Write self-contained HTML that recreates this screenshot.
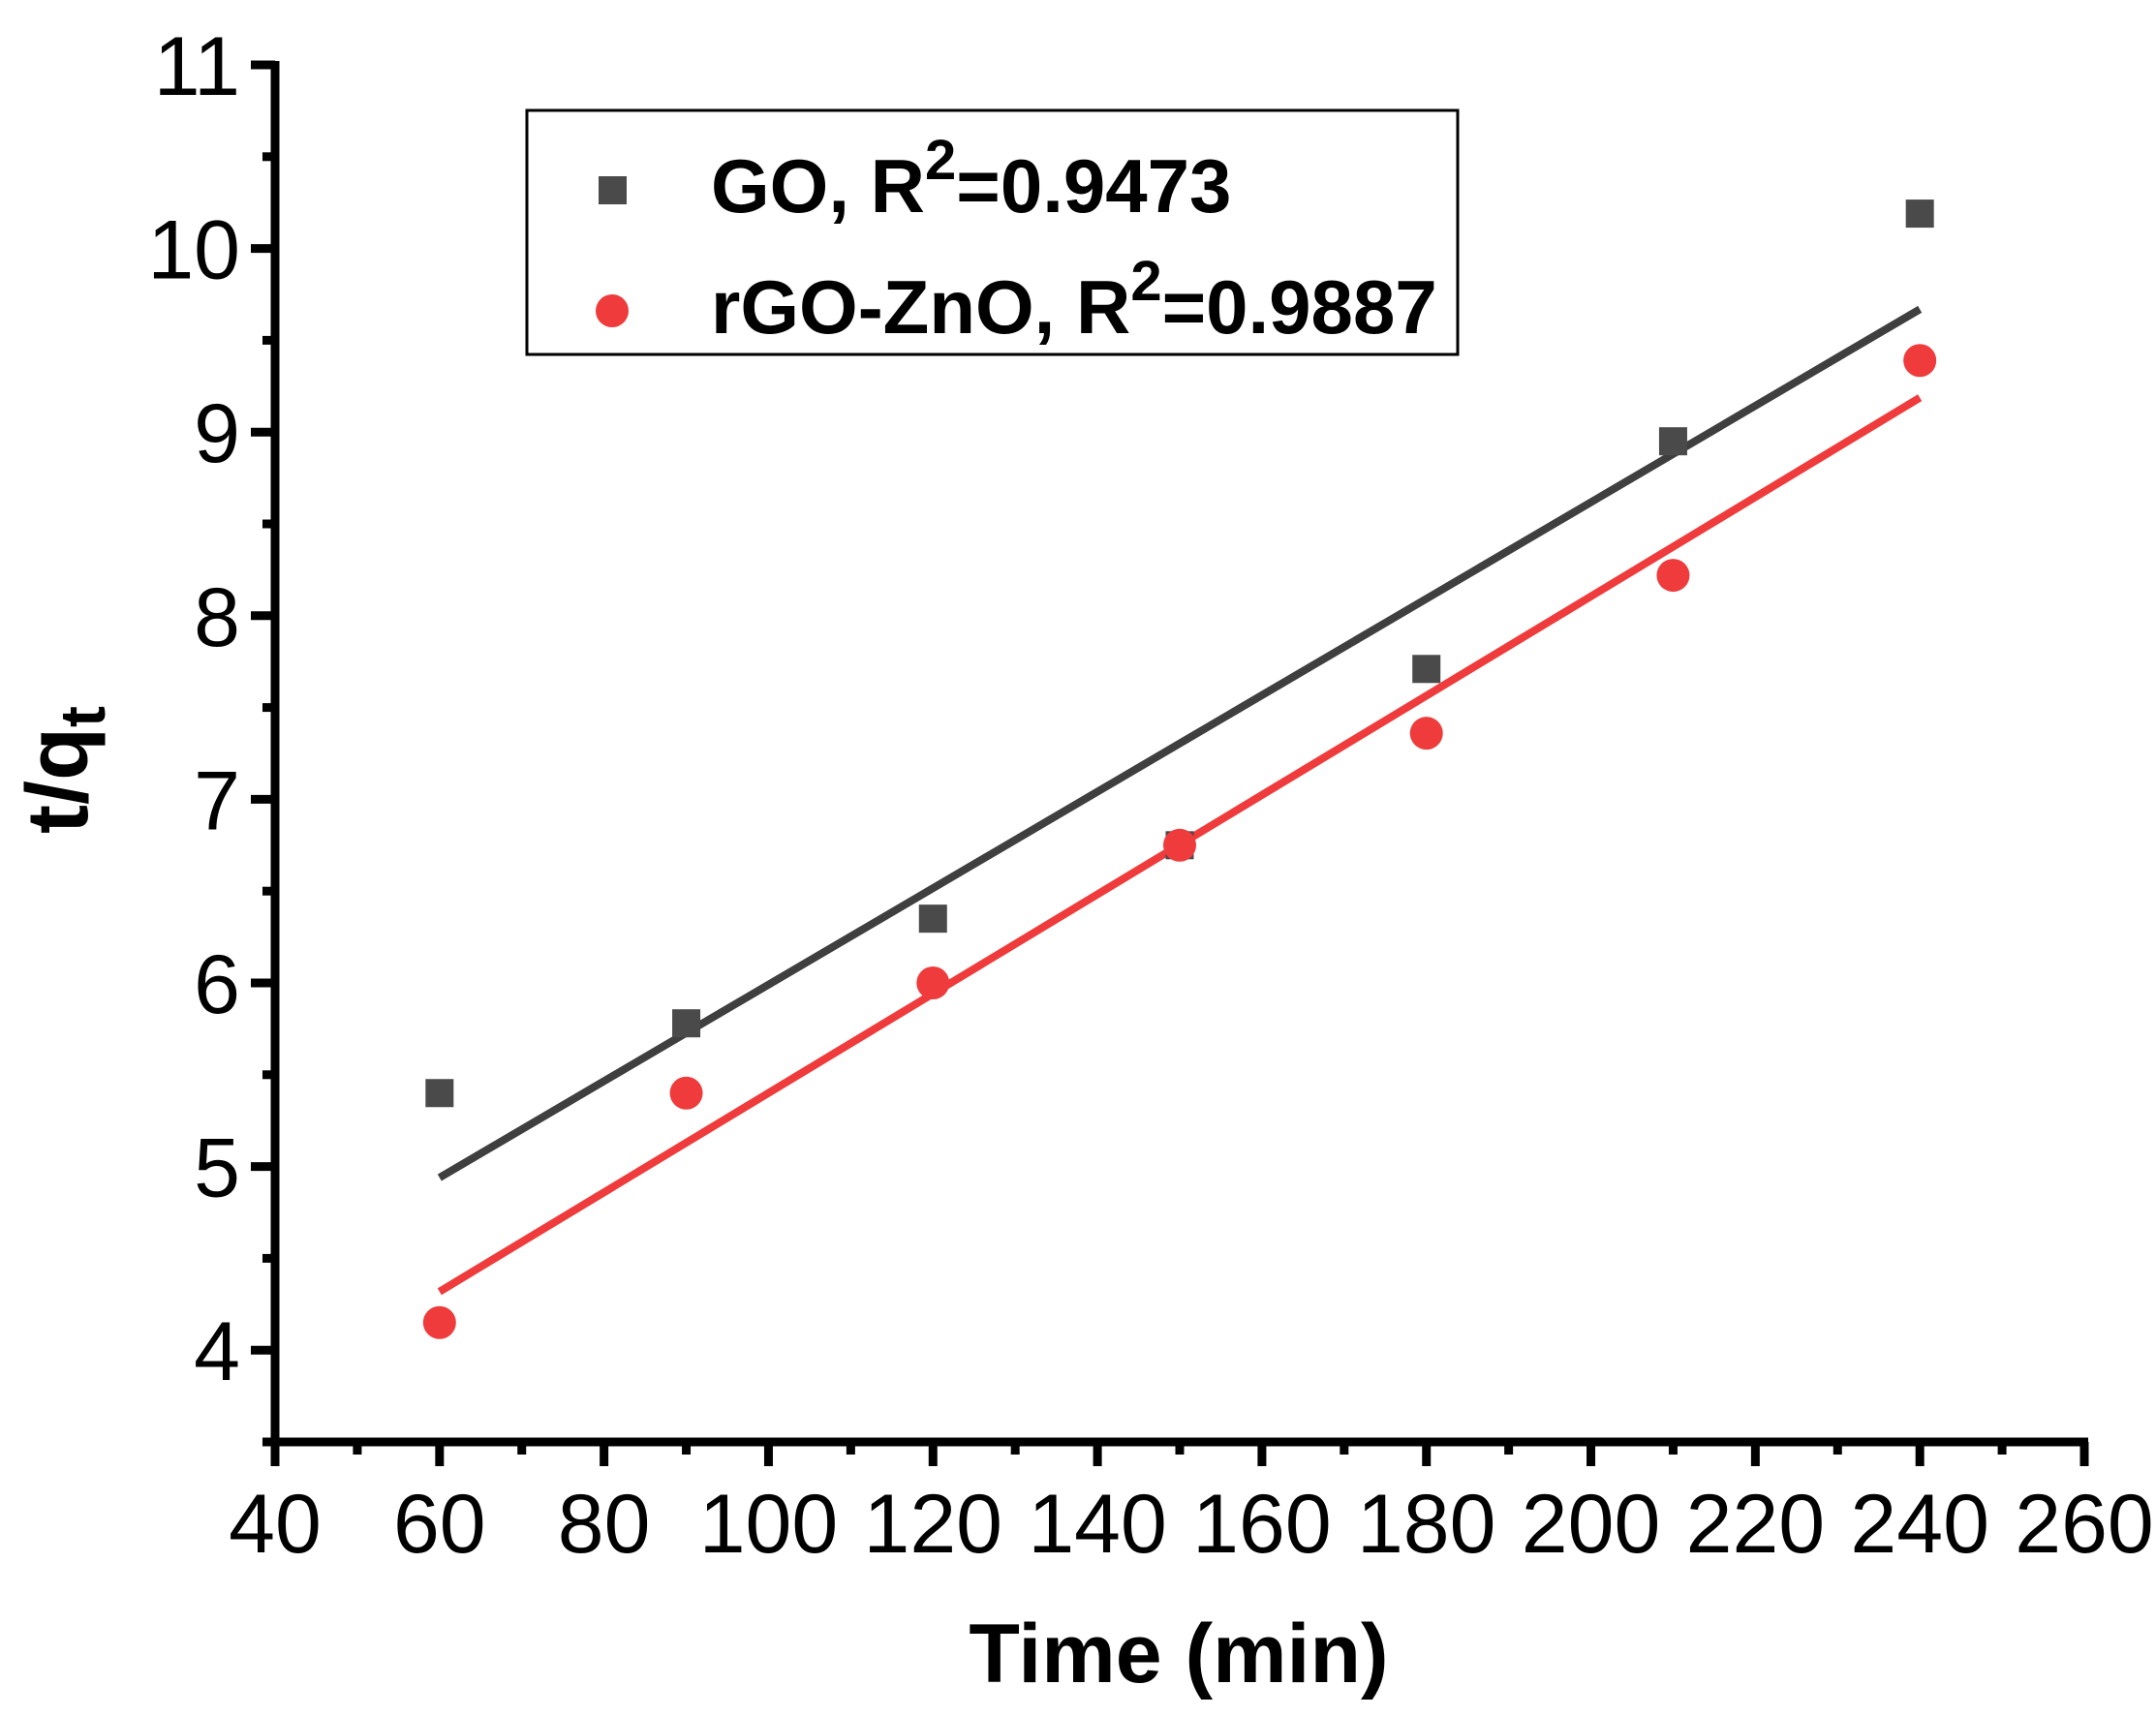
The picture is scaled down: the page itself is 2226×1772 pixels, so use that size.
<!DOCTYPE html>
<html><head><meta charset="utf-8"><style>
html,body{margin:0;padding:0;background:#fff}
svg{display:block}
text{font-family:"Liberation Sans",Arial,sans-serif;fill:#000}
</style></head><body>
<svg id="chart" width="2226" height="1772" viewBox="0 0 2226 1772" xmlns="http://www.w3.org/2000/svg">
<g id="axes"></g>
<g id="series"></g>
<text x="1217" y="1737" font-size="86" font-weight="bold" text-anchor="middle">Time (min)</text>
<text transform="translate(90,795) rotate(-90)" font-size="90" font-weight="bold" text-anchor="middle">t/q<tspan font-size="66" dy="18">t</tspan></text>
<g>
<rect x="544" y="114" width="961" height="252" fill="#fff" stroke="#000" stroke-width="3"/>
<rect x="618" y="182" width="29" height="29" fill="#4a4a4a"/>
<text x="734" y="219" font-size="78" font-weight="bold">GO, R<tspan font-size="58" dy="-34">2</tspan><tspan dy="34">=0.9473</tspan></text>
<circle cx="632" cy="321" r="17" fill="#ef3b3b"/>
<text x="734" y="344" font-size="78" font-weight="bold">rGO-ZnO, R<tspan font-size="58" dy="-34">2</tspan><tspan dy="34">=0.9887</tspan></text>
</g>
</svg>
<script>
const times = [60, 90, 120, 150, 180, 210, 240];
const goValues = [5.4, 5.78, 6.35, 6.75, 7.71, 8.95, 10.19];
const rgoValues = [4.15, 5.4, 6.0, 6.75, 7.36, 8.22, 9.39];
const xTicks = [40, 60, 80, 100, 120, 140, 160, 180, 200, 220, 240, 260];
const yTicks = [4, 5, 6, 7, 8, 9, 10, 11];

const NS = "http://www.w3.org/2000/svg";
const X0 = 284, X1 = 2152, Y0 = 1489, Y1 = 67;
const xMin = 40, xMax = 260, yMin = 3.5, yMax = 11;
function xs(v){ return X0 + (v - xMin) / (xMax - xMin) * (X1 - X0); }
function ys(v){ return Y0 - (v - yMin) / (yMax - yMin) * (Y0 - Y1); }
function mk(tag, attrs, parent){
  const e = document.createElementNS(NS, tag);
  for (const k in attrs) e.setAttribute(k, attrs[k]);
  parent.appendChild(e);
  return e;
}
const axes = document.getElementById('axes');
const series = document.getElementById('series');

let el = mk('line', {x1: X0, y1: Y0, x2: X1 + 4, y2: Y0, stroke: '#000', 'stroke-width': 9}, axes);


el = mk('line', {x1: X0, y1: Y0 + 4, x2: X0, y2: Y1 - 4, stroke: '#000', 'stroke-width': 9}, axes);



xTicks.forEach((t, i) => {
  const x = xs(t);
  let tk = mk('line', {x1: x, y1: Y0, x2: x, y2: Y0 + 25, stroke: '#000', 'stroke-width': 9}, axes);
  
  
  let lb = mk('text', {x: x, y: 1603, 'font-size': 86, 'text-anchor': 'middle'}, axes);
  lb.textContent = t;
  
  
  if (i < xTicks.length - 1) {
    const xm = xs(t + 10);
    let mt = mk('line', {x1: xm, y1: Y0, x2: xm, y2: Y0 + 13, stroke: '#000', 'stroke-width': 9}, axes);
    
    
  }
});
yTicks.forEach((t) => {
  const y = ys(t);
  let tk = mk('line', {x1: X0, y1: y, x2: X0 - 25, y2: y, stroke: '#000', 'stroke-width': 9}, axes);
  
  
  let lb = mk('text', {x: 248, y: y + 31, 'font-size': 86, 'text-anchor': 'end'}, axes);
  lb.textContent = t;
  
  
  const ym = ys(t - 0.5);
  let mt = mk('line', {x1: X0, y1: ym, x2: X0 - 13, y2: ym, stroke: '#000', 'stroke-width': 9}, axes);
  
  
});

function fit(xv, yv){
  const n = xv.length;
  const mx = xv.reduce((a,b)=>a+b,0)/n, my = yv.reduce((a,b)=>a+b,0)/n;
  let sxy = 0, sxx = 0;
  for (let i = 0; i < n; i++){ sxy += (xv[i]-mx)*(yv[i]-my); sxx += (xv[i]-mx)**2; }
  const b = sxy / sxx;
  return {b: b, a: my - b*mx};
}
const fGo = fit(times, goValues), fRgo = fit(times, rgoValues);
const tA = times[0], tB = times[times.length - 1];

let ln = mk('line', {x1: xs(tA), y1: ys(fGo.a + fGo.b*tA), x2: xs(tB), y2: ys(fGo.a + fGo.b*tB), stroke: '#3f3f3f', 'stroke-width': 8}, series);


ln = mk('line', {x1: xs(tA), y1: ys(fRgo.a + fRgo.b*tA), x2: xs(tB), y2: ys(fRgo.a + fRgo.b*tB), stroke: '#ef3b3b', 'stroke-width': 8}, series);



times.forEach((t, i) => {
  const s = mk('rect', {x: xs(t) - 14.5, y: ys(goValues[i]) - 14.5, width: 29, height: 29, fill: '#4a4a4a'}, series);
  
  
});
times.forEach((t, i) => {
  const c = mk('circle', {cx: xs(t), cy: ys(rgoValues[i]), r: 17, fill: '#ef3b3b'}, series);
  
  
});
</script>
</body></html>
